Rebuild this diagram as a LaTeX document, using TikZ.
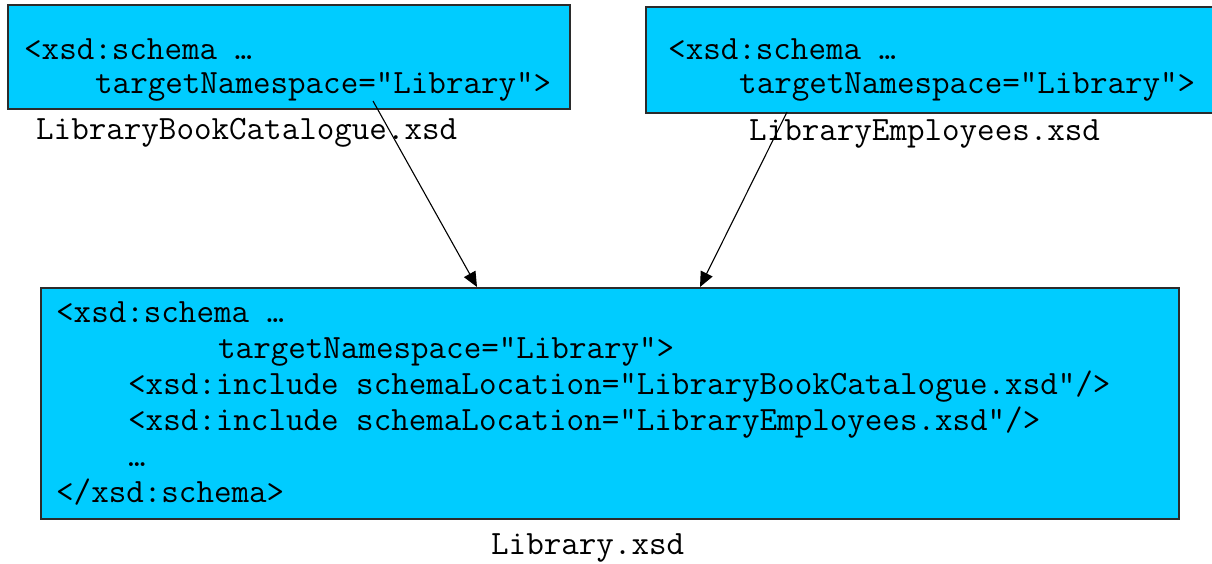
\documentclass[tikz,border=0pt]{standalone}
\usepackage{fontspec}
\usetikzlibrary{arrows.meta}
\definecolor{schemafill}{HTML}{00CCFF}
\definecolor{schemaedge}{HTML}{2B2B2B}
\tikzset{
  schemabox/.style={draw=schemaedge, line width=1.6pt, fill=schemafill, rectangle, inner sep=0pt, anchor=north west},
  code/.style={anchor=base west, inner sep=0pt, font=\fontsize{34.06}{36}\selectfont\ttfamily},
  include/.style={-{Triangle[length=15pt,width=13pt]}, line width=1.1pt, black},
}
\begin{document}
\begin{tikzpicture}[x=1pt, y=-1pt]
\useasboundingbox (0,0) rectangle (1212,563);

% source schema: book catalogue
\node[schemabox, minimum width=562pt, minimum height=104pt] (cat) at (7,4) {};
\node[code] (catl1) at (24,59) {<xsd:schema …};
\node[code] (catl2) at (95,93) {targetNamespace="Library">};
\node[code] (catname) at (36,139) {LibraryBookCatalogue.xsd};

% source schema: employees
\node[schemabox, minimum width=580pt, minimum height=106pt] (emp) at (645,6) {};
\node[code] (empl1) at (668,59) {<xsd:schema …};
\node[code] (empl2) at (739,93) {targetNamespace="Library">};
\node[code] (empname) at (749,140) {LibraryEmployees.xsd};

% including schema
\node[schemabox, minimum width=1138pt, minimum height=231pt] (lib) at (40,287) {};
\node[code] (libl1) at (56,322) {<xsd:schema …};
\node[code] (libl2) at (218,358) {targetNamespace="Library">};
\node[code] (libl3) at (128,394) {<xsd:include schemaLocation="LibraryBookCatalogue.xsd"/>};
\node[code] (libl4) at (128,430) {<xsd:include schemaLocation="LibraryEmployees.xsd"/>};
\node[code] (libl5) at (128,466) {…};
\node[code] (libl6) at (56,502) {</xsd:schema>};
\node[code] (libname) at (491,554) {Library.xsd};

% include arrows
\coordinate (catout) at (373,101);
\coordinate (empout) at (787,112);
\coordinate (catin) at (477,287);
\coordinate (empin) at (700,287);
\draw[include] (catout) -- (catin |- lib.north);
\draw[include] (empout) -- (empin |- lib.north);
\end{tikzpicture}
\end{document}
